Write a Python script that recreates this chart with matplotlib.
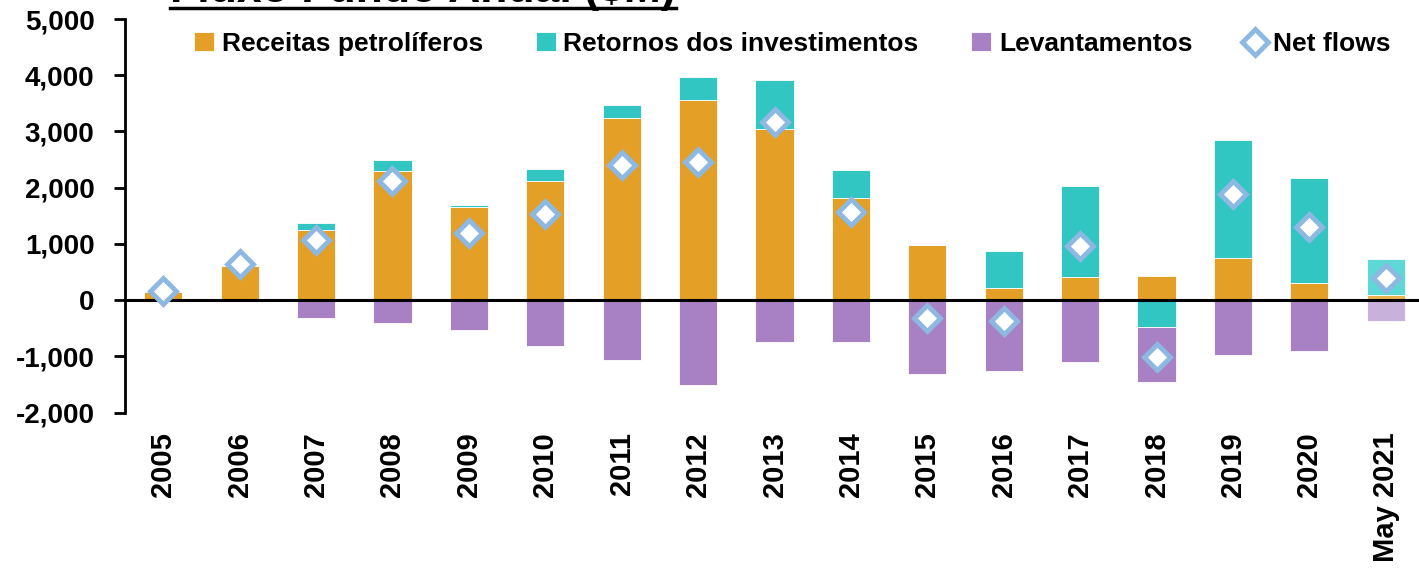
import numpy as np
import matplotlib
matplotlib.use("Agg")
import matplotlib.pyplot as plt
from matplotlib.lines import Line2D

plt.rcParams['font.family'] = ['Liberation Sans', 'DejaVu Sans']
plt.rcParams['font.weight'] = 'bold'

# Dados (US$ milhões)
anos = ['2005', '2006', '2007', '2008', '2009', '2010', '2011', '2012', '2013',
        '2014', '2015', '2016', '2017', '2018', '2019', '2020', 'May 2021']
receitas = [150, 600, 1250, 2290, 1650, 2120, 3245, 3560, 3043,
            1820, 980, 220, 410, 432, 742, 308, 90]
retornos = [10, 25, 120, 210, 50, 220, 225, 402, 872,
            493, 0, 650, 1620, -475, 2108, 1862, 640]
levantamentos = [0, 0, -315, -410, -530, -810, -1070, -1510, -750,
                 -745, -1310, -1260, -1100, -990, -985, -908, -368]
net_flows = [160, 640, 1070, 2120, 1190, 1530, 2400, 2460, 3173,
             1571, -320, -370, 960, -1008, 1890, 1300, 386]

laranja, turquesa, roxo = '#E39F26', '#31C6C2', '#A881C4'
laranja2, turquesa2, roxo2 = '#EBB24E', '#5DD8D5', '#C8B1DA'
azul = '#8DB8E2'

n = len(anos)
x = np.arange(n)
cor_rec = [laranja] * (n - 1) + [laranja2]
cor_ret = [turquesa] * (n - 1) + [turquesa2]
cor_lev = [roxo] * (n - 1) + [roxo2]

fig = plt.figure(figsize=(14.19, 5.68), dpi=100)
ax = fig.add_axes([125 / 1419, 155.5 / 568, 1299 / 1419, 393.5 / 568])

# empilhamento: positivos sobre positivos, negativos sob negativos
pos = np.zeros(n)
neg = np.zeros(n)
largura = 0.5
for vals, cores, nome in [(receitas, cor_rec, 'Receitas petrolíferos'),
                          (retornos, cor_ret, 'Retornos dos investimentos'),
                          (levantamentos, cor_lev, 'Levantamentos')]:
    v = np.array(vals, dtype=float)
    base = np.where(v >= 0, pos, neg)
    ax.bar(x, v, largura, bottom=base, color=cores, edgecolor='white',
           linewidth=0.6, label=nome, zorder=2)
    pos = pos + np.where(v >= 0, v, 0)
    neg = neg + np.where(v < 0, v, 0)

ax.plot(x, net_flows, linestyle='none', marker='D', markersize=13,
        markerfacecolor='white', markeredgecolor=azul, markeredgewidth=3.5,
        label='Net flows', zorder=4)

ax.axhline(0, color='black', linewidth=2.2, zorder=3)

ax.set_xlim(-0.5, n - 0.5)
ax.set_ylim(-2000, 5000)
ax.set_yticks(np.arange(-2000, 5001, 1000))
ax.yaxis.set_major_formatter(matplotlib.ticker.FuncFormatter(lambda v, p: f'{int(v):,}'))
ax.set_xticks(x)
ax.set_xticklabels(anos, rotation=90, fontsize=21, fontweight='bold')
ax.tick_params(axis='x', length=0, pad=14)
ax.tick_params(axis='y', length=8, width=2, direction='out', pad=14,
               labelsize=20)
for s in ['top', 'right', 'bottom']:
    ax.spines[s].set_visible(False)
ax.spines['left'].set_linewidth(2)

handles, labels = ax.get_legend_handles_labels()
ordem = [labels.index(l) for l in ['Receitas petrolíferos', 'Retornos dos investimentos',
                                   'Levantamentos', 'Net flows']]
fig.legend([handles[i] for i in ordem], [labels[i] for i in ordem],
           loc='center left', bbox_to_anchor=(194 / 1419, 1 - 44 / 568),
           ncol=4, frameon=False, fontsize=19, handlelength=0.75,
           handleheight=0.75, handletextpad=0.3, columnspacing=2.0,
           borderaxespad=0, borderpad=0)

# título (cortado no topo, como no original)
titulo = fig.text(170 / 1419, 1 - 2 / 568, 'Fluxo Fundo Anual ($M)',
                  fontsize=32, fontweight='bold', va='baseline', ha='left')
fig.canvas.draw()
bb = titulo.get_window_extent().transformed(fig.transFigure.inverted())
fig.add_artist(Line2D([bb.x0, bb.x1], [1 - 8 / 568, 1 - 8 / 568],
                      transform=fig.transFigure, color='black', linewidth=2.5))

fig.savefig('out.png', dpi=100)
